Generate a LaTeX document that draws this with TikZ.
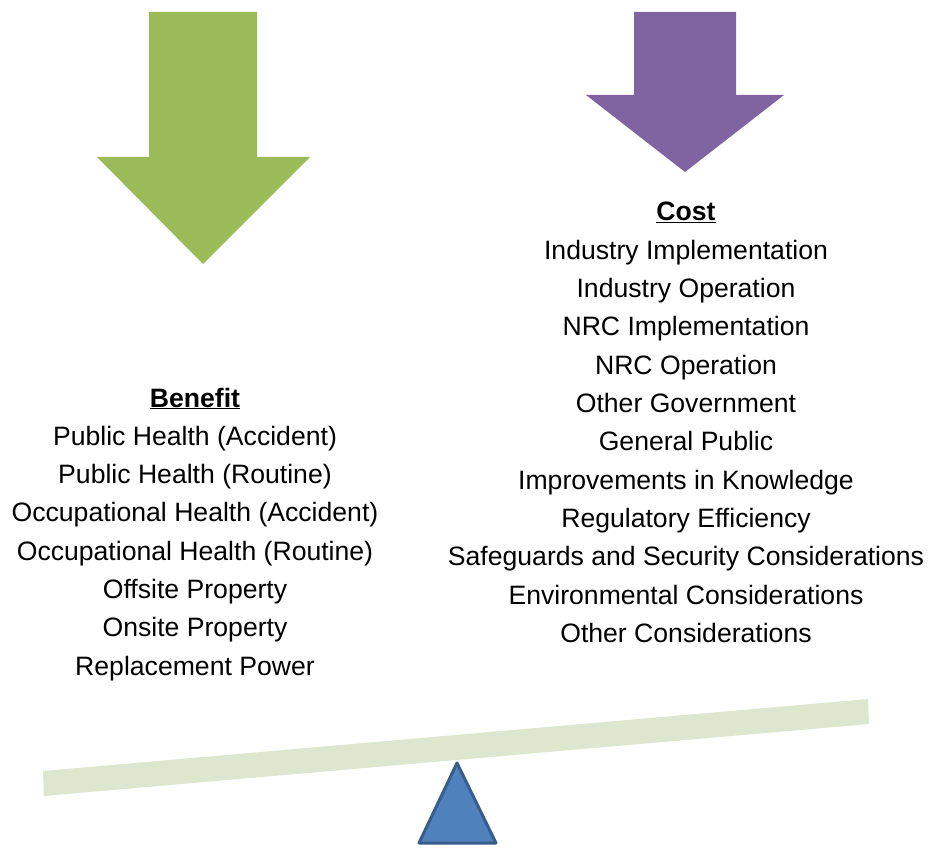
\documentclass[tikz,border=0pt]{standalone}
\usepackage{fontspec}
\setmainfont{Liberation Sans}
\definecolor{benefitgreen}{RGB}{155,187,89}
\definecolor{costpurple}{RGB}{128,100,162}
\definecolor{beamgreen}{RGB}{221,231,208}
\definecolor{fulcrumfill}{RGB}{79,129,189}
\definecolor{fulcrumline}{RGB}{56,93,138}
\begin{document}
\begin{tikzpicture}[x=1pt,y=-1pt,
  item/.style={anchor=base,inner sep=0pt,font=\fontsize{26.6}{32}\selectfont},
  heading/.style={item,font=\fontsize{26.6}{32}\selectfont\bfseries}]
\useasboundingbox (0,0) rectangle (930,848);
% arrows
\fill[benefitgreen] (149,12) -- (257,12) -- (257,157) -- (310,157) -- (203,264) -- (97,157) -- (149,157) -- cycle;
\fill[costpurple] (634,12) -- (736,12) -- (736,95) -- (784,95) -- (685,172) -- (586,95) -- (634,95) -- cycle;
% beam and fulcrum
\fill[beamgreen] (43,771) -- (868,699) -- (869,724) -- (44,796) -- cycle;
\filldraw[fill=fulcrumfill,draw=fulcrumline,line width=3pt,line join=round] (457,763) -- (496,843) -- (419,843) -- cycle;
% benefit list
\node[heading] (bt) at (195,407) {\underline{Benefit}};
\foreach \t [count=\i] in {Public Health (Accident),Public Health (Routine),Occupational Health (Accident),Occupational Health (Routine),Offsite Property,Onsite Property,Replacement Power}
  \node[item] (b\i) at (195,{407+38.3*\i}) {\t};
% cost list
\node[heading] (ct) at (686,221) {\underline{Cost}};
\foreach \t [count=\i] in {Industry Implementation,Industry Operation,NRC Implementation,NRC Operation,Other Government,General Public,Improvements in Knowledge,Regulatory Efficiency,Safeguards and Security Considerations,Environmental Considerations,Other Considerations}
  \node[item] (c\i) at (686,{221+38.3*\i}) {\t};
\end{tikzpicture}
\end{document}
